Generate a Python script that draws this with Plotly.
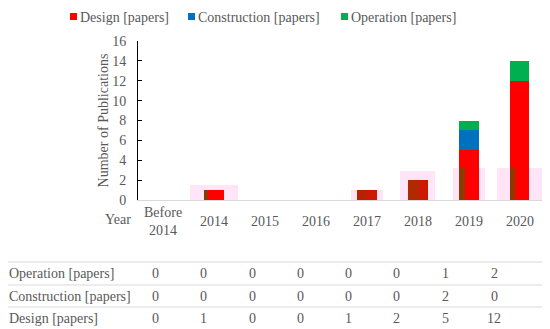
import plotly.graph_objects as go

categories = ["Before 2014", "2014", "2015", "2016", "2017", "2018", "2019", "2020"]
category_labels = ["Before<br>2014", "2014", "2015", "2016", "2017", "2018", "2019", "2020"]
design = [0, 1, 0, 0, 1, 2, 5, 12]
construction = [0, 0, 0, 0, 0, 0, 2, 0]
operation = [0, 0, 0, 0, 0, 0, 1, 2]
series_names = ["Design [papers]", "Construction [papers]", "Operation [papers]"]
y_ticks = [0, 2, 4, 6, 8, 10, 12, 14, 16]
# faint shadow marks visible behind / inside the bars of the source image
shadow_pink = [0, 1.5, 0, 0, 1.0, 2.9, 3.2, 3.2]
shadow_dark = [0, 1, 0, 0, 1, 2, 3.2, 3.2]

colors = ["#FF0000", "#0070C0", "#00B050"]
design_colors = ["#FF0000", "#FF0000", "#FF0000", "#FF0000", "#CC1A00", "#CC1A00", "#FF0000", "#FF0000"]
pink_widths = [0.6, 0.94, 0.6, 0.6, 0.63, 0.69, 0.63, 0.88]
dark_widths = [0.1, 0.08, 0.1, 0.1, 0.2, 0.2, 0.12, 0.1]
dark_colors = ["#8B3A00", "#8B3A00", "#8B3A00", "#8B3A00", "#B82000", "#B02A00", "#8B3A00", "#8B3A00"]

OFF = 8  # default page body margin
W, H = 550 - OFF, 329 - OFF
L, R, T, B = 130, 5, 33, 129
pw, ph = W - L - R, H - T - B

def px_x(x):
    return (x - OFF - L) / pw

def px_y(y):
    return (H - B - (y - OFF)) / ph

FONT = "Liberation Serif"
GRAY = "#595959"
TF = dict(family=FONT, size=14, color=GRAY)
XR = [-0.5, 7.5]

fig = go.Figure()
# shadow pink (bottom layer)
fig.add_trace(go.Bar(x=categories, y=shadow_pink, marker_color="#FFE5F7", marker_line_width=0,
                     width=pink_widths, showlegend=False, hoverinfo="skip",
                     xaxis="x", yaxis="y"))
# main stacked bars
for name, vals, c in zip(series_names, [design, construction, operation],
                         [design_colors, colors[1], colors[2]]):
    fig.add_trace(go.Bar(x=categories, y=vals, name=name, marker_color=c,
                         marker_line_width=0, width=0.39, showlegend=False,
                         xaxis="x2", yaxis="y"))
# dark strips (top layer)
fig.add_trace(go.Bar(x=categories, y=shadow_dark, marker_color=dark_colors, marker_line_width=0,
                     width=dark_widths, offset=-0.195, showlegend=False, hoverinfo="skip",
                     xaxis="x3", yaxis="y"))

fig.update_layout(
    width=W, height=H, barmode="stack",
    margin=dict(l=L, r=R, t=T, b=B, autoexpand=False),
    plot_bgcolor="white", paper_bgcolor="white",
    font=dict(family=FONT, color=GRAY, size=13),
    showlegend=False,
    xaxis=dict(type="category", range=XR, showline=True, linecolor="#d9d9d9", linewidth=1,
               ticks="", showticklabels=False, showgrid=False, automargin=False),
    xaxis2=dict(type="category", range=XR, overlaying="x", visible=False),
    xaxis3=dict(type="category", range=XR, overlaying="x", visible=False),
    yaxis=dict(range=[0, 16], tickvals=y_ticks, showline=True, linecolor="black",
               linewidth=1, ticks="inside", ticklen=4, tickcolor="black",
               ticklabelstandoff=8, showgrid=False, zeroline=False, tickfont=TF,
               automargin=False,
               title=dict(text="Number of Publications", font=TF, standoff=0)),
)

def label(text, x, y, xanchor="center", xref="paper"):
    fig.add_annotation(text=text, xref=xref, yref="paper", x=x, y=y,
                       xanchor=xanchor, yanchor="middle", showarrow=False, font=TF)

# category labels (vertically centred, as in the source)
for i, lab in enumerate(category_labels):
    label(lab, i, px_y(221), xref="x")

# legend drawn manually (swatch + label)
legend_x = [70, 188, 341]
for name, c, lx in zip(series_names, colors, legend_x):
    fig.add_shape(type="rect", xref="paper", yref="paper",
                  x0=px_x(lx), x1=px_x(lx + 7), y0=px_y(20), y1=px_y(13),
                  fillcolor=c, line_width=0)
    label(name, px_x(lx + 8), px_y(17), xanchor="left")

# "Year" label
label("Year", px_x(118), px_y(219))

# data table below
rows = [("Operation [papers]", operation, 273), ("Construction [papers]", construction, 296),
        ("Design [papers]", design, 318)]
col_x = [155, 203, 252, 300, 348, 396, 445, 494]
for name, vals, ypx in rows:
    label(name, px_x(7), px_y(ypx), xanchor="left")
    for cx, v in zip(col_x, vals):
        label(str(v), px_x(cx), px_y(ypx))
for ly in [262, 285, 307]:
    fig.add_shape(type="line", xref="paper", yref="paper", x0=px_x(0), x1=px_x(550),
                  y0=px_y(ly), y1=px_y(ly), line=dict(color="#d9d9d9", width=1))

fig.write_html("out.html")
